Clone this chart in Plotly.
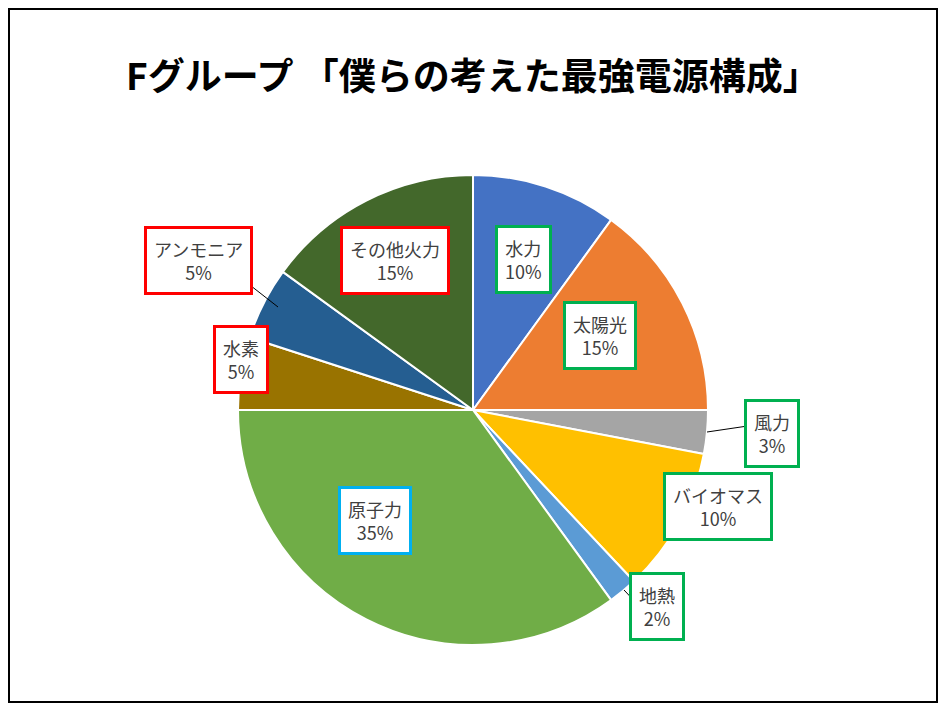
import plotly.graph_objects as go

# the page adds an 8px body margin, so draw a figure that fits inside it
OFF = 8
W, H = 946 - 2 * OFF, 711 - 2 * OFF

# data
labels = ["水力", "太陽光", "風力", "バイオマス", "地熱", "原子力", "水素", "アンモニア", "その他火力"]
values = [10, 15, 3, 10, 2, 35, 5, 5, 15]
colors = ["#4472C4", "#ED7D31", "#A5A5A5", "#FFC000", "#5B9BD5",
          "#70AD47", "#997300", "#255E91", "#43682B"]
box_colors = ["#00B050", "#00B050", "#00B050", "#00B050", "#00B050",
              "#00B0F0", "#FF0000", "#FF0000", "#FF0000"]

# label box centres in reference pixels
label_pos = [(523, 225), (637, 335), (800, 433), (773, 541), (685, 641),
             (375, 555), (213, 359), (144, 260), (395, 260)]
# leader lines in reference pixels
leaders = [((707, 432), (768, 423)), ((690, 506), (716, 530)),
           ((624, 590), (657, 625)), ((205, 250), (278, 307))]


def px(x, y):
    return (x - OFF) / W, 1 - (y - OFF) / H


dx0, dy1 = px(238, 175)
dx1, dy0 = px(708, 645)
fig = go.Figure(go.Pie(
    labels=labels, values=values, sort=False, direction="clockwise", rotation=0,
    marker=dict(colors=colors, line=dict(color="white", width=2)),
    textinfo="none", hoverinfo="label+percent",
    domain=dict(x=[dx0, dx1], y=[dy0, dy1]),
))

annos = []
for lab, v, c, (x, y) in zip(labels, values, box_colors, label_pos):
    ax, ay = px(x, y)
    annos.append(dict(x=ax, y=ay, xref="paper", yref="paper", showarrow=False,
                      text=f"{lab}<br>{v}%", align="center",
                      font=dict(size=18, color="#404040", family="Noto Sans CJK JP"),
                      bordercolor=c, borderwidth=3, borderpad=7, bgcolor="white"))
tx, ty = px(473, 45)
annos.append(dict(x=tx, y=ty, xref="paper", yref="paper", showarrow=False,
                  text="<b>Fグループ 「僕らの考えた最強電源構成」</b>",
                  font=dict(size=37, color="black", family="Noto Sans CJK JP")))

shapes = [dict(type="rect", xref="paper", yref="paper", x0=1 / W, y0=1 / H,
               x1=1 - 1 / W, y1=1 - 1 / H, line=dict(color="black", width=2))]
for (p0, p1) in leaders:
    x0, y0 = px(*p0)
    x1, y1 = px(*p1)
    shapes.append(dict(type="line", xref="paper", yref="paper", x0=x0, y0=y0,
                       x1=x1, y1=y1, line=dict(color="black", width=1), layer="above"))

fig.update_layout(width=W, height=H, margin=dict(l=0, r=0, t=0, b=0),
                  paper_bgcolor="white", showlegend=False,
                  annotations=annos, shapes=shapes)
fig.write_html("out.html")
